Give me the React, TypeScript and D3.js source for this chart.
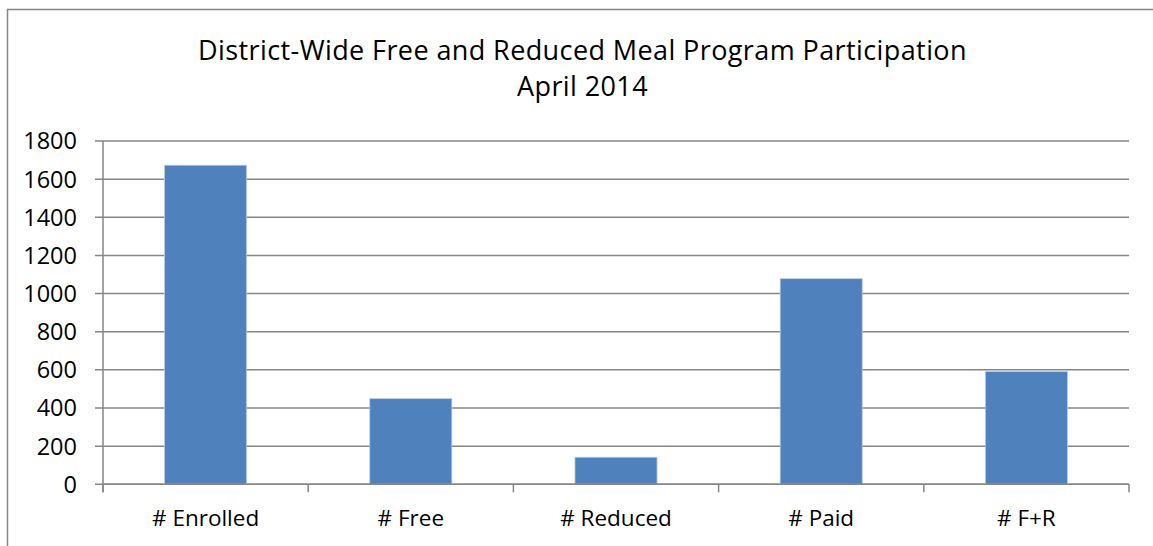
import React, { useEffect, useRef } from 'react';
import * as d3 from 'd3';

const categories = ['# Enrolled', '# Free', '# Reduced', '# Paid', '# F+R'];
const values = [1673, 449, 142, 1078, 591];
const yTicks = [0, 200, 400, 600, 800, 1000, 1200, 1400, 1600, 1800];
const titleLines = ['District-Wide Free and Reduced Meal Program Participation', 'April 2014'];

const App = () => {
  const svgRef = useRef<SVGSVGElement>(null);

  useEffect(() => {
    const W = 1153;
    const H = 546;
    const svg = d3.select(svgRef.current);
    svg.selectAll('*').remove();

    const font = '"Open Sans", sans-serif';
    const left = 103;
    const right = 1129;
    const top = 141;
    const bottom = 484.3;

    // chart border (runs off the right and bottom edges)
    svg.append('rect')
      .attr('x', 7.5)
      .attr('y', 9.5)
      .attr('width', W + 10)
      .attr('height', H + 10)
      .attr('fill', 'white')
      .attr('stroke', '#868686')
      .attr('stroke-width', 1.5);

    // title
    svg.append('text')
      .attr('x', 582.5)
      .attr('text-anchor', 'middle')
      .attr('font-family', font)
      .attr('font-size', 27)
      .attr('letter-spacing', 0.4)
      .attr('fill', '#000')
      .selectAll('tspan')
      .data(titleLines)
      .join('tspan')
      .attr('x', 582.5)
      .attr('y', (_, i) => 60 + i * 36)
      .text(d => d);

    const x = d3.scaleBand().domain(categories).range([left, right]).paddingInner(0).paddingOuter(0);
    const y = d3.scaleLinear().domain([0, 1800]).range([bottom, top]);

    // gridlines with left tick stubs
    svg.append('g')
      .selectAll('line')
      .data(yTicks)
      .join('line')
      .attr('x1', left - 8)
      .attr('x2', right)
      .attr('y1', d => y(d))
      .attr('y2', d => y(d))
      .attr('stroke', '#868686')
      .attr('stroke-width', 1.5);

    // y tick labels
    svg.append('g')
      .selectAll('text')
      .data(yTicks)
      .join('text')
      .attr('x', 77)
      .attr('y', d => y(d))
      .attr('dy', '0.36em')
      .attr('text-anchor', 'end')
      .attr('font-family', font)
      .attr('font-size', 23.5)
      .text(d => d);

    // bars
    const barW = x.bandwidth() * 0.4;
    svg.append('g')
      .selectAll('rect')
      .data(categories)
      .join('rect')
      .attr('x', d => (x(d) as number) + (x.bandwidth() - barW) / 2)
      .attr('y', (_, i) => y(values[i]))
      .attr('width', barW)
      .attr('height', (_, i) => bottom - y(values[i]))
      .attr('fill', '#4f81bd')
      .attr('stroke', '#b9cde5')
      .attr('stroke-width', 0.8);

    // y axis line
    svg.append('line')
      .attr('x1', left)
      .attr('x2', left)
      .attr('y1', top)
      .attr('y2', bottom + 8)
      .attr('stroke', '#868686')
      .attr('stroke-width', 1.5);

    // x axis line
    svg.append('line')
      .attr('x1', left)
      .attr('x2', right)
      .attr('y1', bottom)
      .attr('y2', bottom)
      .attr('stroke', '#868686')
      .attr('stroke-width', 1.5);

    // category boundary ticks
    const bounds = categories.map(c => (x(c) as number) + x.bandwidth()).concat([left]);
    svg.append('g')
      .selectAll('line')
      .data(bounds)
      .join('line')
      .attr('x1', d => d)
      .attr('x2', d => d)
      .attr('y1', bottom)
      .attr('y2', bottom + 8)
      .attr('stroke', '#868686')
      .attr('stroke-width', 1.5);

    // category labels
    svg.append('g')
      .selectAll('text')
      .data(categories)
      .join('text')
      .attr('x', d => (x(d) as number) + x.bandwidth() / 2)
      .attr('y', 526)
      .attr('text-anchor', 'middle')
      .attr('font-family', font)
      .attr('font-size', 22.5)
      .text(d => d);
  }, []);

  return (
    <svg
      ref={svgRef}
      width={1153}
      height={546}
      style={{ position: 'absolute', left: 0, top: 0, display: 'block' }}
    />
  );
};

export default App;
